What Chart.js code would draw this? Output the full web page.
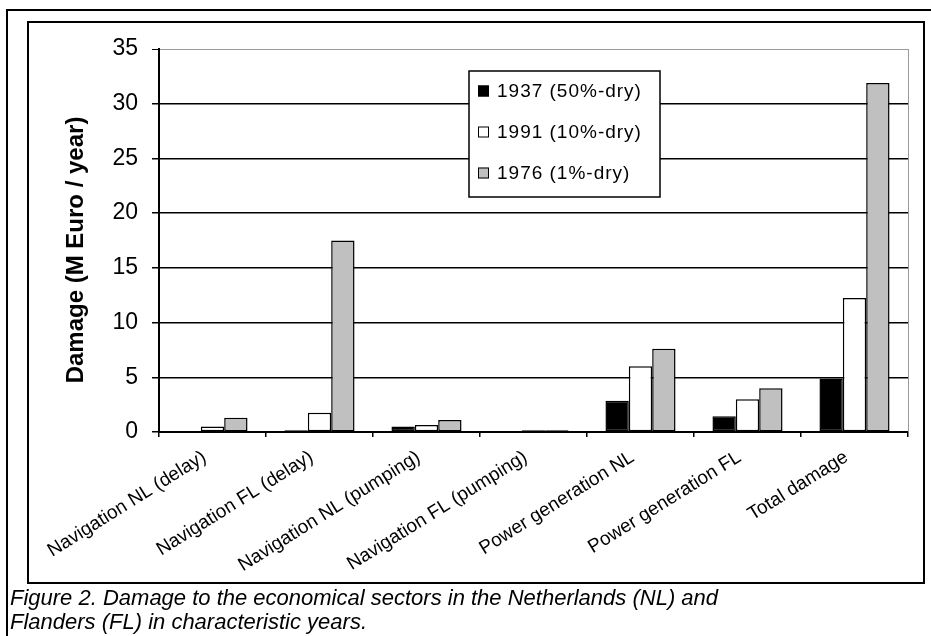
<!DOCTYPE html>
<html>
<head>
<meta charset="utf-8">
<script src="https://cdn.jsdelivr.net/npm/chart.js@4.4.1/dist/chart.umd.min.js"></script>
<style>
  html, body { margin: 0; padding: 0; background: #fff; width: 931px; height: 636px; overflow: hidden; }
  #outer { position: absolute; left: 6px; top: 9px; width: 960px; height: 660px; border: 2px solid #000; box-sizing: border-box; }
  #inner { position: absolute; left: 27px; top: 21px; width: 898px; height: 563px; border: 2px solid #000; box-sizing: border-box; background: #fff; }
  #chart { position: absolute; left: 0; top: 0; }
  #caption { position: absolute; left: 10px; top: 586px; font: italic 22px 'Liberation Sans', Arial, sans-serif; line-height: 24px; color: #000; white-space: nowrap; }
</style>
</head>
<body>
<div id="outer"></div>
<div id="inner"></div>
<canvas id="chart" width="931" height="636"></canvas>
<div id="caption">Figure 2. Damage to the economical sectors in the Netherlands (NL) and<br>Flanders (FL) in characteristic years.</div>
<script>
// Sectors on the category axis
const categories = [
  'Navigation NL (delay)',
  'Navigation FL (delay)',
  'Navigation NL (pumping)',
  'Navigation FL (pumping)',
  'Power generation NL',
  'Power generation FL',
  'Total damage'
];

// Damage in M Euro / year for each characteristic year
const dry1937 = [0, 0.15, 0.5, 0, 2.85, 1.45, 4.9];
const dry1991 = [0.5, 1.75, 0.65, 0.15, 6.0, 3.0, 12.25];
const dry1976 = [1.3, 17.5, 1.1, 0.15, 7.6, 4.0, 31.9];

const seriesNames = ['1937 (50%-dry)', '1991 (10%-dry)', '1976 (1%-dry)'];
const yTicks = [0, 5, 10, 15, 20, 25, 30, 35];
const yTitle = 'Damage (M Euro / year)';

const FONT = "'Liberation Sans', Arial, sans-serif";
Chart.defaults.font.family = FONT;
Chart.defaults.color = '#000';

// Legend box inside the plot area
const boxLegend = {
  id: 'boxLegend',
  afterDatasetsDraw(chart, args, o) {
    const ctx = chart.ctx;
    ctx.save();
    ctx.fillStyle = '#fff';
    ctx.fillRect(o.x, o.y, o.w, o.h);
    ctx.lineWidth = 1.5;
    ctx.strokeStyle = '#000';
    ctx.strokeRect(o.x, o.y, o.w, o.h);
    ctx.font = o.font;
    ctx.letterSpacing = o.spacing;
    ctx.textBaseline = 'middle';
    chart.data.datasets.forEach((ds, i) => {
      const cy = o.y + o.first + i * o.step;
      ctx.fillStyle = ds.backgroundColor;
      ctx.fillRect(o.x + o.sq, cy - o.box / 2, o.box, o.box);
      ctx.lineWidth = 1;
      ctx.strokeStyle = '#000';
      ctx.strokeRect(o.x + o.sq + 0.5, cy - o.box / 2 + 0.5, o.box - 1, o.box - 1);
      ctx.fillStyle = '#000';
      ctx.fillText(ds.label, o.x + o.tx, cy + 1);
    });
    ctx.restore();
  }
};

// Grey right edge of the plot area and the rotated value-axis title
const plotFrame = {
  id: 'plotFrame',
  beforeDatasetsDraw(chart) {
    const { ctx, chartArea: a } = chart;
    ctx.save();
    ctx.strokeStyle = '#9a9a9a';
    ctx.lineWidth = 1;
    ctx.beginPath();
    ctx.moveTo(a.right + 0.5, a.top);
    ctx.lineTo(a.right + 0.5, a.bottom);
    ctx.stroke();
    ctx.restore();
  },
  afterDraw(chart, args, o) {
    const ctx = chart.ctx;
    ctx.save();
    ctx.translate(o.x, o.y);
    ctx.rotate(-Math.PI / 2);
    ctx.font = o.font;
    ctx.fillStyle = '#000';
    ctx.textAlign = 'center';
    ctx.textBaseline = 'alphabetic';
    ctx.fillText(yTitle, 0, 0);
    ctx.restore();
  }
};

new Chart(document.getElementById('chart'), {
  type: 'bar',
  data: {
    labels: categories,
    datasets: [
      { label: seriesNames[0], data: dry1937, backgroundColor: '#000000' },
      { label: seriesNames[1], data: dry1991, backgroundColor: '#ffffff' },
      { label: seriesNames[2], data: dry1976, backgroundColor: '#c0c0c0' }
    ]
  },
  options: {
    responsive: false,
    animation: false,
    devicePixelRatio: 1,
    layout: { padding: { left: 0, right: 23, top: 49, bottom: 0 } },
    datasets: {
      bar: {
        categoryPercentage: 0.655,
        barPercentage: 1.0,
        borderColor: '#000',
        borderWidth: 1.5,
        borderSkipped: false
      }
    },
    plugins: {
      legend: { display: false },
      tooltip: { enabled: false },
      boxLegend: { x: 469, y: 71, w: 191, h: 126, first: 20, step: 41, sq: 9, box: 11, tx: 28, font: '19px ' + FONT, spacing: '1px' },
      plotFrame: { x: 83, y: 250, font: 'bold 24px ' + FONT }
    },
    scales: {
      x: {
        afterFit(s) { s.height = 204; },
        grid: { display: true, offset: true, drawOnChartArea: false, drawTicks: true, tickLength: 5, color: '#000', lineWidth: 1.5 },
        border: { color: '#000', width: 2 },
        ticks: { font: { size: 19 }, minRotation: 32, maxRotation: 32, padding: 9, labelOffset: -8, color: '#000' }
      },
      y: {
        min: 0,
        max: 35,
        afterFit(s) { s.width = 159; },
        afterBuildTicks(s) { s.ticks = yTicks.map(v => ({ value: v })); },
        grid: {
          color: c => (c.tick && c.tick.value === 35 ? '#9a9a9a' : '#000'),
          lineWidth: c => (c.tick && c.tick.value === 35 ? 1 : 1.5),
          tickColor: '#000',
          tickLength: 7,
          drawTicks: true
        },
        border: { color: '#000', width: 2 },
        ticks: { font: { size: 23 }, padding: 14, color: '#000' }
      }
    }
  },
  plugins: [boxLegend, plotFrame]
});
</script>
</body>
</html>
